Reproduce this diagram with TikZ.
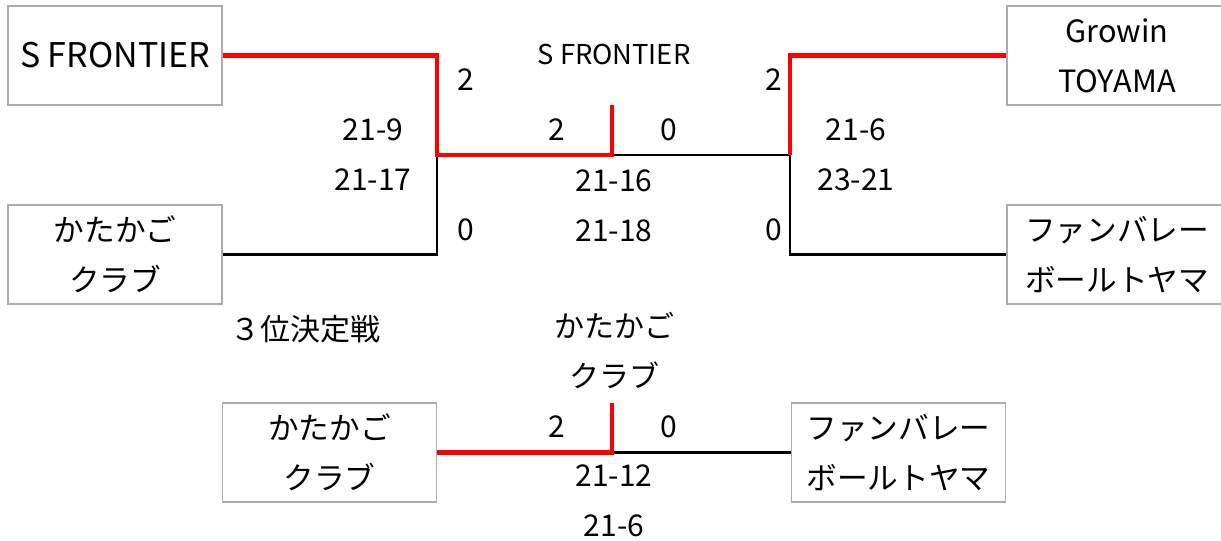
\documentclass[tikz,border=0pt]{standalone}
\usepackage{fontspec}
\setmainfont{Noto Sans CJK JP}
\usepackage{xcolor}
\usepackage{tikz}

\tikzset{
  team/.style={draw=gray!65, line width=0.8pt, minimum width=160.5pt, minimum height=74.25pt,
    inner sep=0pt, align=center, font=\fontsize{23}{37.5}\selectfont},
  score/.style={inner sep=0pt, font=\fontsize{22.5}{26}\selectfont},
  win/.style={red, line width=3.6pt},
  lose/.style={black, line width=1.6pt}
}

\begin{document}
\begin{tikzpicture}[x=0.75pt,y=-0.75pt]
\useasboundingbox (0,0) rectangle (1221,541);
% teams
\node[team] (sf) at (115,55.5) {\fontsize{25.5}{37.5}\selectfont S FRONTIER};
\node[team] (kk) at (115,254.5) {かたかご\\クラブ};
\node[team, minimum width=165pt] (gt) at (1117,55.5) {Growin\\TOYAMA};
\node[team, minimum width=165pt] (fb) at (1117,254.5) {ファンバレー\\ボールトヤマ};
\node[team] (kk3) at (329.5,452.5) {かたかご\\クラブ};
\node[team] (fb3) at (898.5,452.5) {ファンバレー\\ボールトヤマ};
% joints
\coordinate (semiL) at (437,155);
\coordinate (semiR) at (790,155);
\coordinate (final) at (612,155);
\coordinate (finalTop) at (612,105);
\coordinate (third) at (612,452.5);
\coordinate (thirdTop) at (612,403);
% lines
\draw[lose] (kk.east) -| (semiL);
\draw[lose] (fb.west) -| (semiR) -- (final);
\draw[win] (sf.east) -| (semiL) -- (final) -- (finalTop);
\draw[win] (gt.west) -| (semiR);
\draw[lose] (fb3.west) -- (third);
\draw[win] (kk3.east) -- (third) -- (thirdTop);
% scores
\node[score] (sfSets) at (466,80) {2};
\node[score] (kkSets) at (466,230) {0};
\node[score] (sfA) at (373,130) {21-9};
\node[score] (sfB) at (373,180) {21-17};
\node[score] (gtSets) at (774,80) {2};
\node[score] (fbSets) at (774,230) {0};
\node[score] (gtA) at (856,130) {21-6};
\node[score] (gtB) at (856,180) {23-21};
\node[score, font=\fontsize{20.5}{24}\selectfont] (champ) at (614,54) {S FRONTIER};
\node[score] (finL) at (557,130) {2};
\node[score] (finR) at (669,130) {0};
\node[score] (finA) at (614,181) {21-16};
\node[score] (finB) at (614,231) {21-18};
% third place
\node[score] (thirdTitle) at (305,329) {３位決定戦};
\node[score] (thirdWin) at (614,325) {かたかご};
\node[score] (thirdWin2) at (614,375) {クラブ};
\node[score] (thL) at (557,427) {2};
\node[score] (thR) at (669,427) {0};
\node[score] (thA) at (614,476) {21-12};
\node[score] (thB) at (614,526) {21-6};
\end{tikzpicture}
\end{document}
